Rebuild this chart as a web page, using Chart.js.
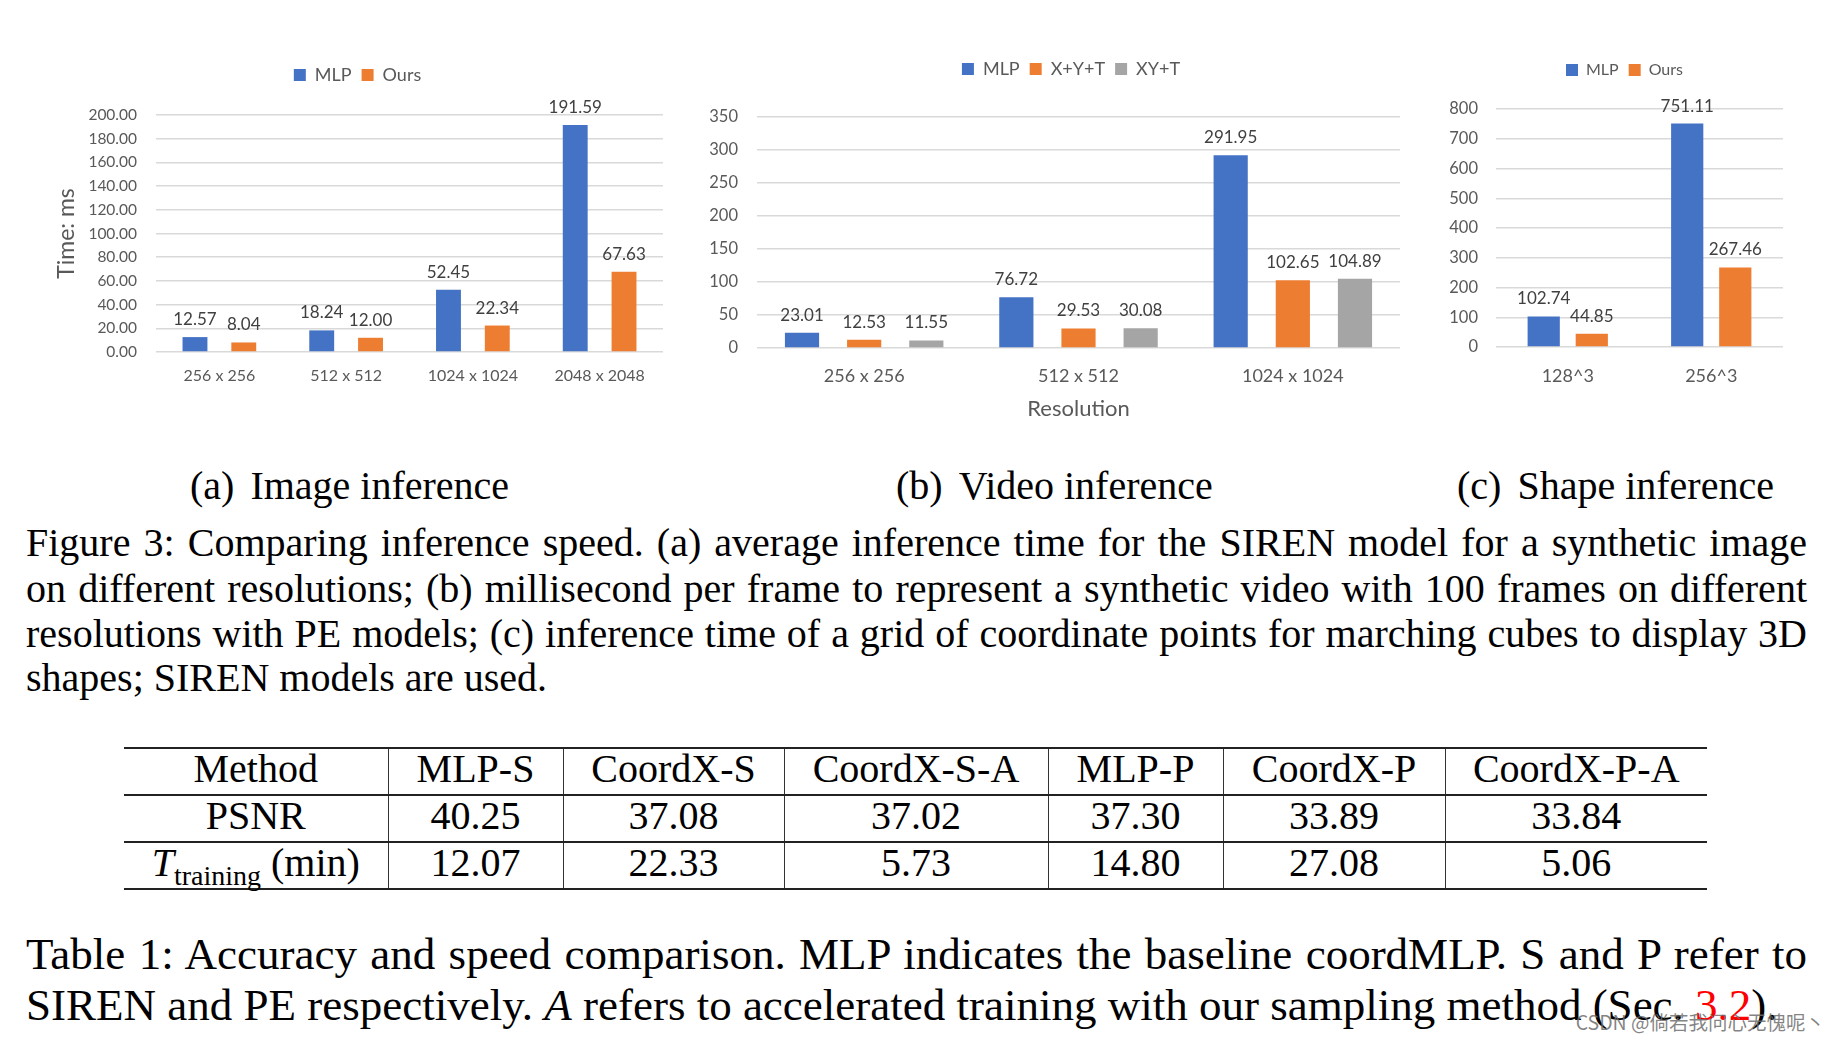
<!DOCTYPE html>
<html><head><meta charset="utf-8">
<script src="https://cdn.jsdelivr.net/npm/chart.js@4.4.0/dist/chart.umd.min.js"></script>
<style>
html,body{margin:0;padding:0;background:#fff;width:1840px;height:1043px;overflow:hidden;position:relative;font-family:"Liberation Serif","Times New Roman",serif;color:#000}
.box{position:absolute}
.box canvas{display:block}
.t{position:absolute;font-size:40px;line-height:48px;white-space:nowrap}
.t2{position:absolute;font-size:45px;line-height:54px;white-space:nowrap}
.gap{display:inline-block;width:16px}
table.res{position:absolute;left:124px;top:747px;border-collapse:collapse;table-layout:fixed;font-size:40px;width:1583px}
table.res td{padding:0 0 5px 0;text-align:center;vertical-align:middle;line-height:40px;white-space:nowrap}
table.res tr.r0 td{border-top:2px solid #222;height:40px}
table.res tr.r1 td{border-top:2px solid #222;height:39px}
table.res tr.r2 td{border-top:2px solid #222;border-bottom:2px solid #222;height:39px}
table.res td + td{border-left:1px solid #333}
.wm{position:absolute;right:15px;top:1009px;font-family:"Noto Sans CJK SC","Noto Sans",sans-serif;font-size:19.5px;line-height:26px;color:rgba(110,110,110,0.85);white-space:nowrap}
</style></head>
<body>
<div class="box" style="left:40px;top:40px;width:640px;height:370px"><canvas id="cA" width="640" height="370"></canvas></div>
<div class="box" style="left:680px;top:40px;width:740px;height:400px"><canvas id="cB" width="740" height="400"></canvas></div>
<div class="box" style="left:1420px;top:40px;width:420px;height:370px"><canvas id="cC" width="420" height="370"></canvas></div>

<div class="t" style="left:190px;top:462px">(a)<span class="gap"></span>Image inference</div>
<div class="t" style="left:896px;top:462px">(b)<span class="gap"></span>Video inference</div>
<div class="t" style="left:1457px;top:462px">(c)<span class="gap"></span>Shape inference</div>

<div class="t jl" style="left:26px;top:519px" data-w="1781">Figure 3: Comparing inference speed. (a) average inference time for the SIREN model for a synthetic image</div>
<div class="t jl" style="left:26px;top:565px" data-w="1781">on different resolutions; (b) millisecond per frame to represent a synthetic video with 100 frames on different</div>
<div class="t jl" style="left:26px;top:610px" data-w="1781">resolutions with PE models; (c) inference time of a grid of coordinate points for marching cubes to display 3D</div>
<div class="t" style="left:26px;top:654px">shapes; SIREN models are used.</div>

<table class="res" id="tbl">
<colgroup><col style="width:264px"><col style="width:175px"><col style="width:221px"><col style="width:264px"><col style="width:175px"><col style="width:222px"><col style="width:262px"></colgroup>
</table>

<div class="t2 jl" style="left:26px;top:927px" data-w="1781">Table 1: Accuracy and speed comparison. MLP indicates the baseline coordMLP. S and P refer to</div>
<div class="t2" style="left:26px;top:978px">SIREN and PE respectively. <i>A</i> refers to accelerated training with our sampling method (Sec. <span style="color:#ff0000">3.2</span>).</div>
<div class="wm">CSDN @倘若我问心无愧呢丶</div>

<script>
// ---------- data ----------
const imgCategories = ['256 x 256', '512 x 512', '1024 x 1024', '2048 x 2048'];
const imgMLP = [12.57, 18.24, 52.45, 191.59];
const imgOurs = [8.04, 12.00, 22.34, 67.63];

const vidCategories = ['256 x 256', '512 x 512', '1024 x 1024'];
const vidMLP = [23.01, 76.72, 291.95];
const vidXpYpT = [12.53, 29.53, 102.65];
const vidXYpT = [11.55, 30.08, 104.89];

const shapeCategories = ['128^3', '256^3'];
const shapeMLP = [102.74, 751.11];
const shapeOurs = [44.85, 267.46];

const tableMethods = ['MLP-S', 'CoordX-S', 'CoordX-S-A', 'MLP-P', 'CoordX-P', 'CoordX-P-A'];
const tablePSNR = ['40.25', '37.08', '37.02', '37.30', '33.89', '33.84'];
const tableTrain = ['12.07', '22.33', '5.73', '14.80', '27.08', '5.06'];

// ---------- table ----------
(function(){
  const tbl = document.getElementById('tbl');
  const rows = [
    ['Method'].concat(tableMethods),
    ['PSNR'].concat(tablePSNR),
    ['<i>T</i><sub style="font-size:28px;line-height:0;vertical-align:-9px">training</sub> (min)'].concat(tableTrain)
  ];
  rows.forEach((r, i) => {
    const tr = document.createElement('tr');
    tr.className = 'r' + i;
    r.forEach(c => { const td = document.createElement('td'); td.innerHTML = c; tr.appendChild(td); });
    tbl.appendChild(tr);
  });
})();

// ---------- justify lines ----------
document.querySelectorAll('.jl').forEach(el => {
  const target = +el.dataset.w;
  const natural = el.getBoundingClientRect().width;
  const spaces = (el.textContent.match(/ /g) || []).length;
  if (spaces) el.style.wordSpacing = ((target - natural) / spaces) + 'px';
});

// ---------- charts ----------
const BLUE = '#4472C4', ORANGE = '#ED7D31', GRAY = '#A5A5A5';
const FONT = 'Lato, "Open Sans", sans-serif';
const TXT = '#595959';

const valueLabels = {
  id: 'valueLabels',
  afterDatasetsDraw(chart, args, opts) {
    const ctx = chart.ctx;
    ctx.save();
    ctx.font = opts.size + 'px ' + FONT;
    ctx.fillStyle = opts.color;
    ctx.textAlign = 'center';
    ctx.textBaseline = 'bottom';
    chart.data.datasets.forEach((ds, i) => {
      const meta = chart.getDatasetMeta(i);
      meta.data.forEach((bar, j) => {
        ctx.fillText(ds.data[j].toFixed(2), bar.x, bar.y - opts.offset);
      });
    });
    ctx.restore();
  }
};
// extra space under the legend, and horizontal shift of the legend
const legendGap = {
  id: 'legendGap',
  beforeLayout(chart, args, opts) {
    const lg = chart.legend;
    if (lg && !lg._gapPatched) {
      const f = lg.fit;
      lg.fit = function () { f.call(this); this.height += opts.extra; };
      lg._gapPatched = true;
    }
  },
  afterLayout(chart, args, opts) {
    const lg = chart.legend;
    if (lg && opts.shift) { lg.left += opts.shift; lg.right += opts.shift; }
  }
};

function makeChart(id, labels, datasets, cfg) {
  return new Chart(document.getElementById(id), {
    type: 'bar',
    data: { labels, datasets },
    plugins: [legendGap, valueLabels],
    options: {
      responsive: false, animation: false, devicePixelRatio: 1,
      layout: { padding: cfg.padding },
      datasets: { bar: { categoryPercentage: cfg.cat, barPercentage: cfg.bar } },
      plugins: {
        legend: { position: 'top', labels: { boxWidth: cfg.lgBox, boxHeight: cfg.lgBox, padding: 10, color: TXT, font: { family: FONT, size: cfg.lgSize } } },
        tooltip: { enabled: false },
        legendGap: { extra: cfg.gap, shift: cfg.shift },
        valueLabels: { size: 17, color: '#404040', offset: 9 }
      },
      scales: {
        x: {
          grid: { display: false, drawTicks: false }, border: { display: false },
          ticks: { padding: cfg.xPad, color: TXT, font: { family: FONT, size: cfg.xSize } },
          title: cfg.xTitle ? { display: true, text: cfg.xTitle, color: TXT, font: { family: FONT, size: 22 }, padding: { top: 0, bottom: 18 } } : { display: false },
          afterFit(s) { s.height = cfg.xH; }
        },
        y: {
          min: 0, max: cfg.max,
          grid: { color: '#D9D9D9', lineWidth: 1.5, drawTicks: false }, border: { display: false },
          ticks: { stepSize: cfg.step, padding: cfg.yPad, color: TXT, font: { family: FONT, size: cfg.ySize }, callback: cfg.yFmt },
          title: cfg.yTitle ? { display: true, text: cfg.yTitle, color: TXT, font: { family: FONT, size: 23 }, padding: { top: 1 } } : { display: false },
          afterFit(s) { s.width = cfg.yW; }
        }
      }
    }
  });
}

makeChart('cA', imgCategories, [
  { label: 'MLP', data: imgMLP, backgroundColor: BLUE },
  { label: 'Ours', data: imgOurs, backgroundColor: ORANGE }
], { padding: { top: 16, left: 12, right: 17, bottom: 0 }, gap: 21, shift: 0, lgSize: 18, lgBox: 12, cat: 0.77, bar: 0.51, max: 200, step: 20,
     yFmt: v => v.toFixed(2), yTitle: 'Time: ms', yW: 104, yPad: 19, ySize: 15.5, xH: 58, xPad: 14, xSize: 16 });

makeChart('cB', vidCategories, [
  { label: 'MLP', data: vidMLP, backgroundColor: BLUE },
  { label: 'X+Y+T', data: vidXpYpT, backgroundColor: ORANGE },
  { label: 'XY+T', data: vidXYpT, backgroundColor: GRAY }
], { padding: { top: 10, left: 0, right: 20, bottom: 0 }, gap: 29, shift: 31, lgSize: 18, lgBox: 12, cat: 0.87, bar: 0.55, max: 350, step: 50,
     yFmt: v => String(v), yW: 77, yPad: 19, ySize: 16.5, xH: 92, xPad: 17, xSize: 18, xTitle: 'Resolution' });

makeChart('cC', shapeCategories, [
  { label: 'MLP', data: shapeMLP, backgroundColor: BLUE },
  { label: 'Ours', data: shapeOurs, backgroundColor: ORANGE }
], { padding: { top: 12, left: 0, right: 57, bottom: 0 }, gap: 21, shift: 23, lgSize: 16, lgBox: 12, cat: 0.67, bar: 0.67, max: 800, step: 100,
     yFmt: v => String(v), yW: 76, yPad: 18, ySize: 16.5, xH: 63, xPad: 18, xSize: 18 });
</script>
</body></html>
